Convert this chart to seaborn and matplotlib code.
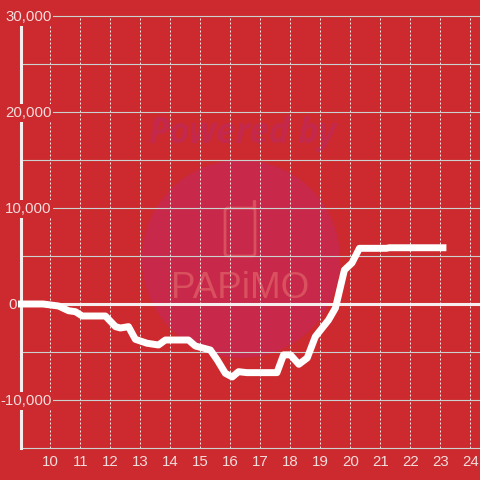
import matplotlib
matplotlib.use('Agg')
import matplotlib.pyplot as plt
import seaborn as sns
import pandas as pd
from matplotlib.patches import Circle, FancyBboxPatch

hours = [8.9, 9.75, 10.27, 10.6, 10.83, 11.06, 11.83, 12.17, 12.33, 12.6, 12.83, 13.22, 13.6, 13.83,
         14.6, 14.83, 15.33, 15.56, 15.83, 16.06, 16.27, 16.55, 17.55, 17.77, 18.0, 18.28, 18.56, 18.83,
         19.27, 19.5, 19.8, 20.05, 20.3, 21.2, 21.3, 23.2]
balance = [0, 0, -210, -700, -800, -1250, -1250, -2360, -2500, -2360, -3680, -4090, -4270, -3750,
           -3750, -4375, -4790, -5830, -7220, -7600, -7050, -7150, -7150, -5300, -5300, -6280, -5620, -3400,
           -1670, -420, 3540, 4270, 5800, 5800, 5860, 5860]
x_ticks = list(range(10, 25))
y_ticks = [-15000, -10000, -5000, 0, 5000, 10000, 15000, 20000, 25000, 30000]
y_labels = {30000: '30,000', 20000: '20,000', 10000: '10,000', 0: '0', -10000: '-10,000'}

BG = '#cc2a2e'
TXT = '#f3dcdc'
GRID = '#c9d2cf'
MARK = '#d9505f'

sns.set_theme(style='white')
plt.rcParams['font.family'] = ['Liberation Sans', 'DejaVu Sans']

fig = plt.figure(figsize=(4.8, 4.8), dpi=100, facecolor=BG)
ax = fig.add_axes([20.5 / 480, 32 / 480, 459.5 / 480, 432 / 480], facecolor=BG)

# watermark in pixel coords, under everything
def fx(v):
    return v / 480
def fy(v):
    return 1 - v / 480

fig.add_artist(Circle((fx(241), fy(259)), 99 / 480, transform=fig.transFigure, fc='#c8284a', ec='none', zorder=-5))
fig.add_artist(FancyBboxPatch((fx(225), fy(256)), 30 / 480, 48 / 480, boxstyle='round,pad=0,rounding_size=0.006',
                              transform=fig.transFigure, fc='none', ec=MARK, lw=2, zorder=-4))
fig.add_artist(plt.Line2D([fx(254), fx(254)], [fy(208), fy(201)], transform=fig.transFigure,
                          color=MARK, lw=2.5, solid_capstyle='round', zorder=-4))
fig.text(fx(243), fy(134), 'Powered by', color='#c4284a', fontsize=25, fontweight='bold', fontstyle='italic',
         ha='center', va='center', family='Open Sans', zorder=-4)
fig.text(fx(240), fy(289), 'PAPiMO', color=MARK, fontsize=26.5, ha='center', va='center',
         family='Liberation Sans', zorder=-4)
ax.patch.set_visible(False)

df = pd.DataFrame({'hour': hours, 'balance': balance})
ax.axhline(0, color='#f6eeee', lw=2.2, zorder=2.2)
sns.lineplot(data=df, x='hour', y='balance', ax=ax, color='white', lw=5, zorder=3, clip_on=False,
             solid_capstyle='butt', solid_joinstyle='round', errorbar=None, estimator=None, sort=False)

ax.set_xlim(9, 24.32)
ax.set_ylim(-15000, 30000)
ax.set_xticks(x_ticks)
ax.set_xticklabels([str(h) for h in x_ticks])
ax.set_yticks(y_ticks)
ax.set_yticklabels([])
ax.tick_params(axis='x', length=0, pad=5, labelsize=10.8, labelcolor=TXT)
ax.tick_params(axis='y', length=0)
ax.set_xlabel('')
ax.set_ylabel('')
ax.grid(True, axis='y', color=GRID, lw=0.8, clip_on=False)
ax.grid(True, axis='x', color='#f4e6e4', lw=0.72, linestyle=(0, (2, 2)))
ax.set_axisbelow(True)

for s in ['top', 'right', 'bottom']:
    ax.spines[s].set_visible(False)
ax.spines['left'].set_color('#f6eeee')
ax.spines['left'].set_linewidth(2.2)

for v, lab in y_labels.items():
    xpos = 16.5 if v == 0 else 51.5
    ax.annotate(lab, xy=(xpos / 480, v), xycoords=('figure fraction', 'data'), xytext=(0, -0.7),
                textcoords='offset points', ha='right', va='center',
                color=TXT, fontsize=10.8, zorder=6, annotation_clip=False,
                bbox=dict(fc=BG, ec='none', pad=1.2))

fig.savefig('out.png', dpi=100, facecolor=BG)
